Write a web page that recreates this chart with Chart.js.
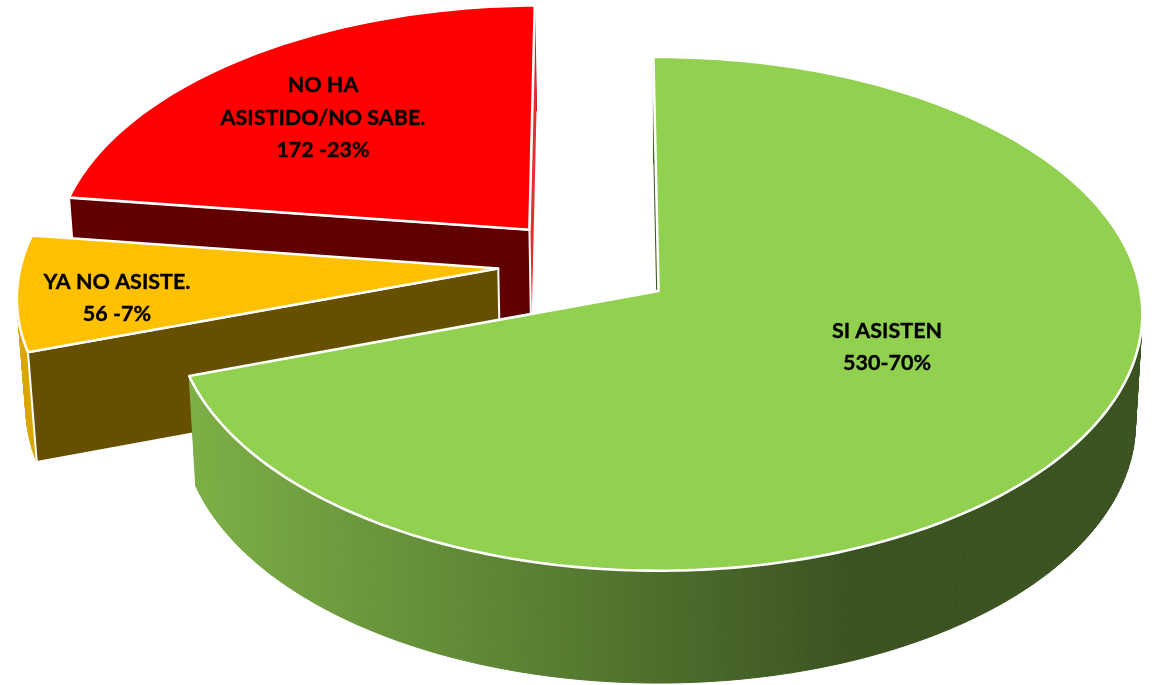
<!DOCTYPE html>
<html>
<head>
<meta charset="utf-8">
<title>Asistencia</title>
<script src="https://cdn.jsdelivr.net/npm/chart.js@4"></script>
<style>
  html, body { margin: 0; padding: 0; background: #fff; }
  canvas { display: block; }
</style>
</head>
<body>
<canvas id="pie3d" width="1154" height="685"></canvas>
<script>
// Chart values
const categories = ["SI ASISTEN", "YA NO ASISTE.", "NO HA ASISTIDO/NO SABE."];
const students = [530, 56, 172];
const labelLines = [
  ["SI ASISTEN", "530-70%"],
  ["YA NO ASISTE.", "56 -7%"],
  ["NO HA", "ASISTIDO/NO SABE.", "172 -23%"]
];

// Colours
const topColors = ["#92D050", "#FFC000", "#FF0000"];
const rimColors = [null, "#DAA600", "#B00000"];
const startWallColors = ["#3B5321", "#665000", "#600000"];
const endWallColors = ["#3B5321", "#665000", "#E03030"];

// Disc projection
const CX = 657, CY = 292;
const RX = 482, RY = 255;
const PERSP = 0.0895;
const EXPLODE = 0.185;
const SHIFT_U = -0.148, SHIFT_V = -0.111;
const DEPTH = 109;
const SHRINK_X = 0.986, SHRINK_Y = 1.012;
const labelSpots = [[887, 331], [117, 282], [323, 85.5]];

function project(u, v) {
  let pu = u + SHIFT_U, pv = v + SHIFT_V;
  let w = 1 - PERSP * pv;
  return [CX + RX * pu / w, CY + RY * pv / w];
}

function lower(p) {
  return [CX + (p[0] - CX) * SHRINK_X, CY + (p[1] - CY) * SHRINK_Y + DEPTH];
}

function polygon(ctx, pts) {
  ctx.beginPath();
  pts.forEach((p, i) => (i ? ctx.lineTo(p[0], p[1]) : ctx.moveTo(p[0], p[1])));
  ctx.closePath();
}

// Takes the angles the pie controller worked out and draws the slice as a solid
function drawSlice(ctx, arc, i) {
  let mid = (arc.startAngle + arc.endAngle) / 2;
  let u0 = EXPLODE * Math.cos(mid), v0 = EXPLODE * Math.sin(mid);
  let apex = project(u0, v0);
  let edge = [], angles = [];
  let steps = Math.ceil((arc.endAngle - arc.startAngle) * 180 / Math.PI);
  for (let s = 0; s <= steps; s++) {
    let a = arc.startAngle + (arc.endAngle - arc.startAngle) * s / steps;
    angles.push(a);
    edge.push(project(u0 + Math.cos(a), v0 + Math.sin(a)));
  }
  let first = edge[0], last = edge[edge.length - 1];

  let rimFill = rimColors[i];
  if (!rimFill) {
    rimFill = ctx.createLinearGradient(190, 0, 850, 0);
    rimFill.addColorStop(0, "#7DB046");
    rimFill.addColorStop(1, "#3B5321");
  }

  // outer rim, one quad per degree, back half or front half
  function drawRim(front) {
    ctx.fillStyle = rimFill;
    ctx.strokeStyle = rimFill;
    ctx.lineWidth = 1;
    for (let s = 0; s < steps; s++) {
      if ((Math.sin(angles[s]) > 0) !== front) continue;
      polygon(ctx, [edge[s], edge[s + 1], lower(edge[s + 1]), lower(edge[s])]);
      ctx.fill();
      ctx.stroke();
    }
  }

  drawRim(false);

  polygon(ctx, [apex, last, lower(last), lower(apex)]);
  ctx.fillStyle = endWallColors[i];
  ctx.fill();

  drawRim(true);

  polygon(ctx, [apex, first, lower(first), lower(apex)]);
  ctx.fillStyle = startWallColors[i];
  ctx.fill();
  if (i > 0) {
    ctx.strokeStyle = "#fff";
    ctx.lineWidth = 2;
    ctx.stroke();
  }

  // top face
  polygon(ctx, [apex].concat(edge));
  ctx.fillStyle = arc.options.backgroundColor;
  ctx.fill();
  ctx.strokeStyle = "#fff";
  ctx.lineWidth = 2.6;
  ctx.lineJoin = "round";
  ctx.stroke();
}

const pie3d = {
  id: "pie3d",
  beforeDatasetDraw(chart) {
    let ctx = chart.ctx;
    let arcs = chart.getDatasetMeta(0).data;
    ctx.save();
    // back slices first
    for (let i = arcs.length - 1; i >= 0; i--) {
      drawSlice(ctx, arcs[i], i);
    }
    ctx.restore();
    return false;
  },
  afterDatasetsDraw(chart) {
    let ctx = chart.ctx;
    ctx.save();
    ctx.font = "bold 21.5px Lato";
    ctx.fillStyle = "#000";
    ctx.strokeStyle = "#000";
    ctx.lineWidth = 0.35;
    ctx.textAlign = "center";
    ctx.textBaseline = "middle";
    labelLines.forEach((lines, i) => {
      lines.forEach((line, j) => {
        let y = labelSpots[i][1] + j * 32.5;
        ctx.fillText(line, labelSpots[i][0], y);
        ctx.strokeText(line, labelSpots[i][0], y);
      });
    });
    ctx.restore();
  }
};

new Chart(document.getElementById("pie3d"), {
  type: "pie",
  data: {
    labels: categories,
    datasets: [{ data: students, backgroundColor: topColors, borderWidth: 0 }]
  },
  options: {
    responsive: false,
    animation: false,
    rotation: -0.65,
    plugins: { legend: { display: false }, tooltip: { enabled: false } }
  },
  plugins: [pie3d]
});
</script>
</body>
</html>
